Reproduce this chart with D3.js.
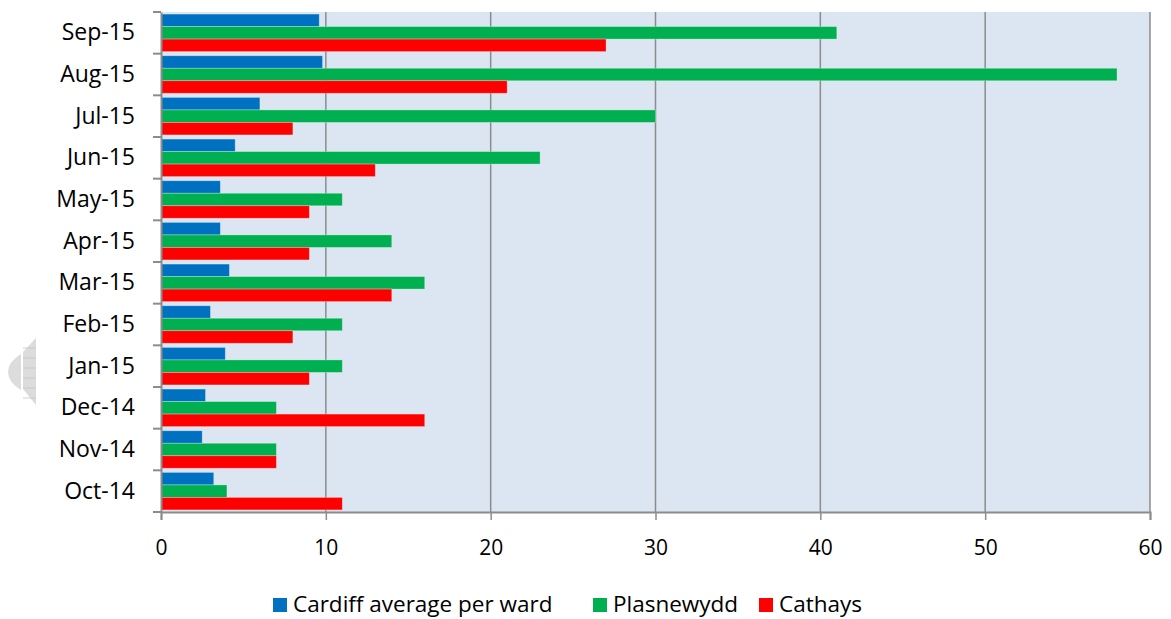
<!DOCTYPE html>
<html>
<head>
<meta charset="utf-8">
<script src="https://cdn.jsdelivr.net/npm/d3@7"></script>
<style>
  body { margin: 0; background: #fff; }
  svg { display: block; font-family: "Open Sans", Carlito, Calibri, sans-serif; }
</style>
</head>
<body>
<svg></svg>
<script>
"use strict";

const months = ["Oct-14", "Nov-14", "Dec-14", "Jan-15", "Feb-15", "Mar-15",
  "Apr-15", "May-15", "Jun-15", "Jul-15", "Aug-15", "Sep-15"];
const cardiffAvg = [3.2, 2.5, 2.7, 3.9, 3.0, 4.15, 3.6, 3.6, 4.5, 6.0, 9.8, 9.6];
const plasnewydd = [4, 7, 7, 11, 11, 16, 14, 11, 23, 30, 58, 41];
const cathays = [11, 7, 16, 9, 8, 14, 9, 9, 13, 8, 21, 27];
const seriesNames = ["Cardiff average per ward", "Plasnewydd", "Cathays"];
const seriesColors = ["#0070c0", "#00b050", "#ff0000"];
const xTicks = [0, 10, 20, 30, 40, 50, 60];

const width = 1171;
const height = 619;
const margin = { top: 12, right: 21, bottom: 107, left: 161 };
const font = "'Open Sans', Carlito, Calibri, sans-serif";

const svg = d3.select("svg").attr("width", width).attr("height", height);

const seriesValues = [cardiffAvg, plasnewydd, cathays];
const rows = months.map((m, i) => ({
  month: m,
  values: seriesValues.map((s, j) => ({ key: seriesNames[j], value: s[i], idx: j })),
}));

const xScale = d3.scaleLinear()
  .domain([0, 60])
  .range([margin.left, width - margin.right]);

const yScale = d3.scaleBand()
  .domain(months.slice().reverse())
  .range([margin.top, height - margin.bottom])
  .paddingInner(0.1)
  .paddingOuter(0.05);

const inner = d3.scaleBand()
  .domain(seriesNames)
  .range([0, yScale.bandwidth()]);

// plot background
svg.append("rect")
  .attr("x", margin.left)
  .attr("y", margin.top)
  .attr("width", xScale(60) - margin.left)
  .attr("height", height - margin.bottom - margin.top)
  .attr("fill", "#dce6f2");

// vertical gridlines
svg.append("g")
  .selectAll("line")
  .data(xTicks.slice(1))
  .join("line")
  .attr("x1", (d) => xScale(d))
  .attr("x2", (d) => xScale(d))
  .attr("y1", margin.top)
  .attr("y2", height - margin.bottom)
  .attr("stroke", "#8c8c8c")
  .attr("stroke-width", 1.5);

// bars
svg.append("g")
  .selectAll("g")
  .data(rows)
  .join("g")
  .attr("transform", (d) => `translate(0,${yScale(d.month)})`)
  .selectAll("rect")
  .data((d) => d.values)
  .join("rect")
  .attr("x", xScale(0))
  .attr("y", (d) => inner(d.key))
  .attr("width", (d) => xScale(d.value) - xScale(0))
  .attr("height", inner.bandwidth())
  .attr("fill", (d) => seriesColors[d.idx])
  .attr("stroke", "rgba(255,255,255,0.35)")
  .attr("stroke-width", 0.8);

// x axis
const xAxis = d3.axisBottom(xScale).tickValues(xTicks).tickSize(8).tickPadding(20);
const gx = svg.append("g")
  .attr("transform", `translate(0,${height - margin.bottom})`)
  .call(xAxis);
gx.select(".domain").attr("stroke", "#8c8c8c").attr("stroke-width", 2);
gx.selectAll(".tick line").attr("stroke", "#8c8c8c").attr("stroke-width", 1.5);
gx.selectAll("text").attr("font-size", 21).attr("fill", "#000")
  .attr("font-family", font);

// y axis, ticks sit between the categories
const yAxis = d3.axisLeft(yScale).tickSize(0).tickPadding(26);
const gy = svg.append("g")
  .attr("transform", `translate(${margin.left},0)`)
  .call(yAxis);
gy.select(".domain").attr("stroke", "#8c8c8c").attr("stroke-width", 2);
gy.selectAll("text").attr("font-size", 23).attr("fill", "#000")
  .attr("font-family", font);

const sepTicks = d3.range(months.length + 1)
  .map((i) => margin.top + i * yScale.step());
svg.append("g")
  .selectAll("line")
  .data(sepTicks)
  .join("line")
  .attr("x1", margin.left - 8)
  .attr("x2", margin.left)
  .attr("y1", (d) => d)
  .attr("y2", (d) => d)
  .attr("stroke", "#8c8c8c")
  .attr("stroke-width", 2);

// little grey scroll artefact at the left edge
const art = svg.append("g").attr("fill", "#dcdcdc");
art.append("path").attr("d", "M21,354 Q8,362 8,372 Q8,382 21,390 Z");
art.append("path").attr("d", "M23,352 L36,338 L36,405 L23,389 Z");
art.append("g")
  .attr("stroke", "#c4c4c4")
  .attr("stroke-width", 0.8)
  .selectAll("line")
  .data([348, 358, 368, 378, 388, 398])
  .join("line")
  .attr("x1", 23).attr("x2", 36)
  .attr("y1", (d) => d).attr("y2", (d) => d);

// legend
const legendX = [273, 593, 759];
const legend = svg.append("g")
  .selectAll("g")
  .data(seriesNames)
  .join("g")
  .attr("transform", (d, i) => `translate(${legendX[i]},598)`);
legend.append("rect")
  .attr("width", 14)
  .attr("height", 14)
  .attr("fill", (d, i) => seriesColors[i]);
legend.append("text")
  .attr("x", 20)
  .attr("y", 14)
  .attr("font-size", 22.5)
  .attr("fill", "#000")
  .text((d) => d);
</script>
</body>
</html>
